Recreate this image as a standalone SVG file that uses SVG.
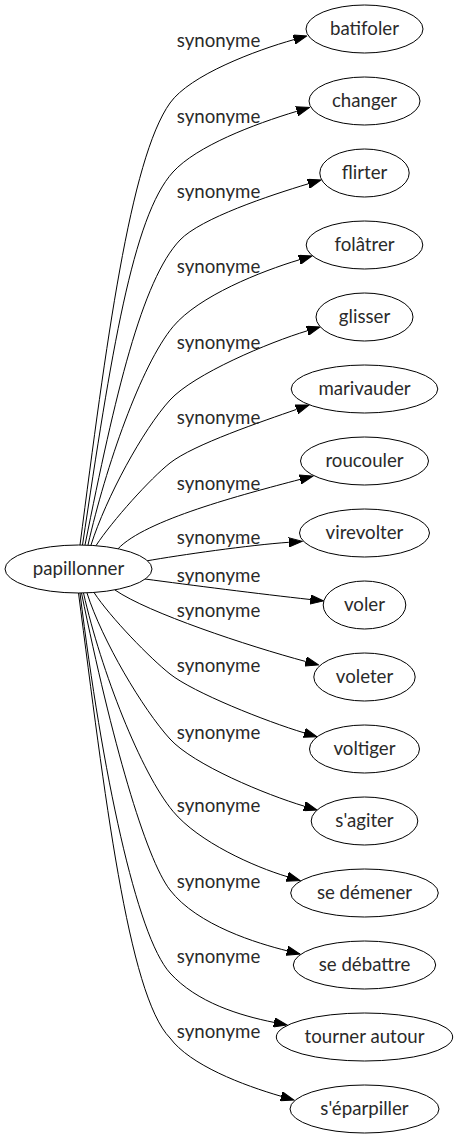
<svg xmlns="http://www.w3.org/2000/svg" width="458" height="1139" viewBox="0 0 458 1139">
<style>
text{font-family:Lato,"Open Sans","DejaVu Sans",sans-serif;font-size:18.67px;fill:#2a2a2a}
.node ellipse{fill:#fff;stroke:#000;stroke-width:1}
.node text{text-anchor:middle}
#edges path{fill:none;stroke:#000;stroke-width:1;marker-end:url(#arr)}
#edges text{text-anchor:middle}
</style>
<defs>
<marker id="arr" markerWidth="14" markerHeight="10" refX="0" refY="5" orient="auto" markerUnits="userSpaceOnUse">
<path d="M0,0.33 L13.3,5 L0,9.67 z" fill="#000" stroke="#000" stroke-width="1"/>
</marker>
</defs>
<rect width="458" height="1139" fill="#fff"/>
<g id="edges">
<path d="M80,545 C106,345 130,159 170,103 C190,75 255.5,50.4 294,39.6"/>
<path d="M82.5,545 C111,355 132.6,216.4 173,172 C196.6,146.1 253.7,124.2 296.8,111.3"/>
<path d="M85,545 C115,395 142,279.8 180,240 C200.7,218.3 270,195.3 308.3,183.8"/>
<path d="M88,545 C105.6,467 141,365.1 173,326.7 C198.6,296 261,271.3 299.3,259.8"/>
<path d="M91,545 C106.2,497.4 143,429.6 170,400 C193.6,374.1 269,342.3 307.3,330.8"/>
<path d="M96,545.6 C112.5,520.5 150.4,478.5 170,463 C193.5,444.4 263.5,421 296.5,409.4"/>
<path d="M118,548.8 C145,520 242,494.7 300.1,479.4"/>
<path d="M146,561 C180,555 250,545 288.8,542.3"/>
<path d="M145,579 C190,585 260,594 310.3,599.5"/>
<path d="M115,590 C147.8,612.8 247.8,645.9 305.7,661.5"/>
<path d="M94,592.5 C110.5,617.6 150.4,658.5 170,674 C193.5,692.6 266,721.4 304.3,732.9"/>
<path d="M87,593 C102.2,640.7 143,709.4 170,739 C193.6,764.9 266,794.7 304.3,806.2"/>
<path d="M83.5,593 C101.1,671 141,772.9 173,811.3 C198.6,842 253.8,866.7 287.3,876.7"/>
<path d="M81.5,593 C111.5,740 145.6,858.4 170,890 C197.5,925.6 258,943.5 287.1,950.8"/>
<path d="M80,593 C102,772 136.5,936 170,973 C196.8,1002.6 239.7,1015.5 274,1022.4"/>
<path d="M78.5,593 C104.5,793 128,995 170,1038 C190,1065 242.8,1085.2 281.2,1096.3"/>
<text x="218.5" y="46.7">synonyme</text>
<text x="218.5" y="123.3">synonyme</text>
<text x="218.5" y="198.3">synonyme</text>
<text x="218.5" y="273.3">synonyme</text>
<text x="218.5" y="349.3">synonyme</text>
<text x="218.5" y="424.3">synonyme</text>
<text x="218.5" y="490">synonyme</text>
<text x="218.5" y="544.3">synonyme</text>
<text x="218.5" y="581.7">synonyme</text>
<text x="218.5" y="617.3">synonyme</text>
<text x="218.5" y="671.7">synonyme</text>
<text x="218.5" y="739.3">synonyme</text>
<text x="218.5" y="811.7">synonyme</text>
<text x="218.5" y="888.3">synonyme</text>
<text x="218.5" y="963.3">synonyme</text>
<text x="218.5" y="1038.3">synonyme</text>
</g>
<g id="n0" class="node"><ellipse cx="78.5" cy="569" rx="73.5" ry="24"/><text x="78.5" y="575">papillonner</text></g>
<g id="n1" class="node"><ellipse cx="364.5" cy="29" rx="58.5" ry="24"/><text x="364.5" y="35">batifoler</text></g>
<g id="n2" class="node"><ellipse cx="364.5" cy="101" rx="55.5" ry="24"/><text x="364.5" y="107">changer</text></g>
<g id="n3" class="node"><ellipse cx="364.5" cy="173" rx="44.7" ry="24"/><text x="364.5" y="179">flirter</text></g>
<g id="n4" class="node"><ellipse cx="364.5" cy="245" rx="58.3" ry="24"/><text x="364.5" y="251">folâtrer</text></g>
<g id="n5" class="node"><ellipse cx="364.5" cy="317" rx="48.5" ry="24"/><text x="364.5" y="323">glisser</text></g>
<g id="n6" class="node"><ellipse cx="364.5" cy="389" rx="73.3" ry="24"/><text x="364.5" y="395">marivauder</text></g>
<g id="n7" class="node"><ellipse cx="364.5" cy="461" rx="64" ry="24"/><text x="364.5" y="467">roucouler</text></g>
<g id="n8" class="node"><ellipse cx="364.5" cy="533" rx="65" ry="24"/><text x="364.5" y="539">virevolter</text></g>
<g id="n9" class="node"><ellipse cx="364.5" cy="605" rx="41.3" ry="24"/><text x="364.5" y="611">voler</text></g>
<g id="n10" class="node"><ellipse cx="364.5" cy="677" rx="50.7" ry="24"/><text x="364.5" y="683">voleter</text></g>
<g id="n11" class="node"><ellipse cx="364.5" cy="749" rx="55" ry="24"/><text x="364.5" y="755">voltiger</text></g>
<g id="n12" class="node"><ellipse cx="364.5" cy="821" rx="53.3" ry="24"/><text x="364.5" y="827">s'agiter</text></g>
<g id="n13" class="node"><ellipse cx="364.5" cy="893" rx="73.8" ry="24"/><text x="364.5" y="899">se démener</text></g>
<g id="n14" class="node"><ellipse cx="364.5" cy="965" rx="71.2" ry="24"/><text x="364.5" y="971">se débattre</text></g>
<g id="n15" class="node"><ellipse cx="364.5" cy="1037" rx="88.2" ry="24"/><text x="364.5" y="1043">tourner autour</text></g>
<g id="n16" class="node"><ellipse cx="364.5" cy="1109" rx="74.5" ry="24"/><text x="364.5" y="1115">s'éparpiller</text></g>
</svg>
